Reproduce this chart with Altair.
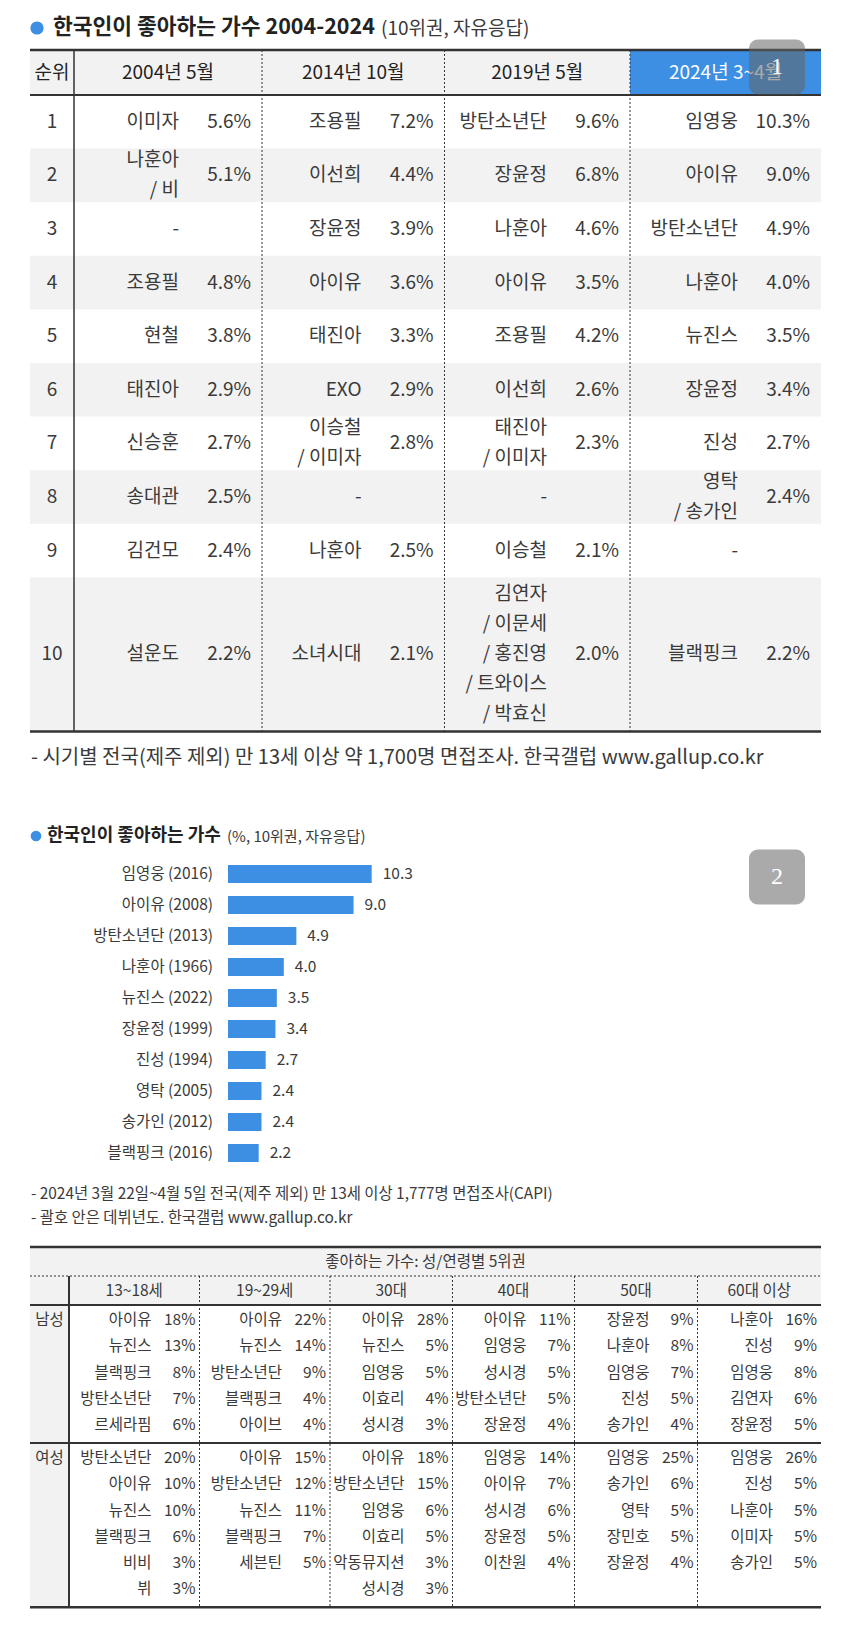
import altair as alt
import pandas as pd

# ---------------- data ----------------
title_1 = "한국인이 좋아하는 가수 2004-2024"
title_1_note = "(10위권, 자유응답)"
rank_header = "순위"
periods = ["2004년 5월", "2014년 10월", "2019년 5월", "2024년 3~4월"]
ranks = [1, 2, 3, 4, 5, 6, 7, 8, 9, 10]
names_2004 = ["이미자", "나훈아/비", "-", "조용필", "현철", "태진아", "신승훈", "송대관", "김건모", "설운도"]
vals_2004 = [5.6, 5.1, None, 4.8, 3.8, 2.9, 2.7, 2.5, 2.4, 2.2]
names_2014 = ["조용필", "이선희", "장윤정", "아이유", "태진아", "EXO", "이승철/이미자", "-", "나훈아", "소녀시대"]
vals_2014 = [7.2, 4.4, 3.9, 3.6, 3.3, 2.9, 2.8, None, 2.5, 2.1]
names_2019 = ["방탄소년단", "장윤정", "나훈아", "아이유", "조용필", "이선희", "태진아/이미자", "-", "이승철",
              "김연자/이문세/홍진영/트와이스/박효신"]
vals_2019 = [9.6, 6.8, 4.6, 3.5, 4.2, 2.6, 2.3, None, 2.1, 2.0]
names_2024 = ["임영웅", "아이유", "방탄소년단", "나훈아", "뉴진스", "장윤정", "진성", "영탁/송가인", "-", "블랙핑크"]
vals_2024 = [10.3, 9.0, 4.9, 4.0, 3.5, 3.4, 2.7, 2.4, None, 2.2]
note_1 = "- 시기별 전국(제주 제외) 만 13세 이상 약 1,700명 면접조사. 한국갤럽 www.gallup.co.kr"

title_2 = "한국인이 좋아하는 가수"
title_2_note = "(%, 10위권, 자유응답)"
bar_singers = ["임영웅", "아이유", "방탄소년단", "나훈아", "뉴진스", "장윤정", "진성", "영탁", "송가인", "블랙핑크"]
bar_debut = [2016, 2008, 2013, 1966, 2022, 1999, 1994, 2005, 2012, 2016]
bar_values = [10.3, 9.0, 4.9, 4.0, 3.5, 3.4, 2.7, 2.4, 2.4, 2.2]
note_2 = ["- 2024년 3월 22일~4월 5일 전국(제주 제외) 만 13세 이상 1,777명 면접조사(CAPI)",
          "- 괄호 안은 데뷔년도. 한국갤럽 www.gallup.co.kr"]

table_2_title = "좋아하는 가수: 성/연령별 5위권"
age_groups = ["13~18세", "19~29세", "30대", "40대", "50대", "60대 이상"]
genders = ["남성", "여성"]
male_names = [
    ["아이유", "뉴진스", "블랙핑크", "방탄소년단", "르세라핌"],
    ["아이유", "뉴진스", "방탄소년단", "블랙핑크", "아이브"],
    ["아이유", "뉴진스", "임영웅", "이효리", "성시경"],
    ["아이유", "임영웅", "성시경", "방탄소년단", "장윤정"],
    ["장윤정", "나훈아", "임영웅", "진성", "송가인"],
    ["나훈아", "진성", "임영웅", "김연자", "장윤정"],
]
male_pcts = [[18, 13, 8, 7, 6], [22, 14, 9, 4, 4], [28, 5, 5, 4, 3],
             [11, 7, 5, 5, 4], [9, 8, 7, 5, 4], [16, 9, 8, 6, 5]]
female_names = [
    ["방탄소년단", "아이유", "뉴진스", "블랙핑크", "비비", "뷔"],
    ["아이유", "방탄소년단", "뉴진스", "블랙핑크", "세븐틴"],
    ["아이유", "방탄소년단", "임영웅", "이효리", "악동뮤지션", "성시경"],
    ["임영웅", "아이유", "성시경", "장윤정", "이찬원"],
    ["임영웅", "송가인", "영탁", "장민호", "장윤정"],
    ["임영웅", "진성", "나훈아", "이미자", "송가인"],
]
female_pcts = [[20, 10, 10, 6, 3, 3], [15, 12, 11, 7, 5], [18, 15, 6, 5, 3, 3],
               [14, 7, 6, 5, 4], [25, 6, 5, 5, 4], [26, 5, 5, 5, 5]]
badges = ["1", "2"]

# ---------------- style / layout ----------------
FONT = "Noto Sans CJK KR"
SERIF = "Liberation Serif"
INK = "#3a3a3a"
DARK = "#222222"
BLUE = "#3d8fe3"
SHADE = "#f2f2f2"
LINE = "#333333"

W, H = 834, 1620
X0, Y0 = 8, 8  # page margin; layout values below are page pixels


def sx():
    return alt.Scale(domain=[X0, X0 + W], range=[0, W])


def sy():
    return alt.Scale(domain=[Y0, Y0 + H], range=[0, H])


texts, rects, rules, dots = [], [], [], []


def T(x, y, s, size, color=INK, align="left", weight="normal", font=FONT):
    texts.append(dict(x=x, y=y, text=s, size=size, color=color, align=align, weight=weight, font=font))


def R(x, x2, y, y2, fill):
    rects.append(dict(x=x, x2=x2, y=y, y2=y2, fill=fill))


def L(x, x2, y, y2, w=1.0, dash=False, color=LINE):
    rules.append(dict(x=x, x2=x2, y=y, y2=y2, w=w, dash=dash, color=color))


# ---- section 1: ranking table ----
dots.append(dict(x=37, y=28, size=175))
T(53, 28, title_1, 21.5, DARK, weight="bold")
T(381, 29, title_1_note, 19, INK)

t1_edges = [30, 74, 262, 444.5, 630, 821]
t1_top, t1_head = 50, 95
row_min_h, line_h = 53.6, 30
name_inset, pct_inset = 83, 11
period_names = [names_2004, names_2014, names_2019, names_2024]
period_vals = [vals_2004, vals_2014, vals_2019, vals_2024]

R(t1_edges[0], t1_edges[4], t1_top, t1_head, SHADE)
R(t1_edges[4], t1_edges[5], t1_top, t1_head, BLUE)
hy = (t1_top + t1_head) / 2
T((t1_edges[0] + t1_edges[1]) / 2, hy, rank_header, 19, DARK, "center")
for j, p in enumerate(periods):
    T((t1_edges[j + 1] + t1_edges[j + 2]) / 2, hy, p, 19,
      "#ffffff" if j == len(periods) - 1 else DARK, "center")

row_lines = [max(len(period_names[j][i].split("/")) for j in range(len(periods))) for i in range(len(ranks))]
row_h = [row_min_h if n <= 2 else n * line_h + 4 for n in row_lines]
y = t1_head
for i, r in enumerate(ranks):
    top, bot = y, y + row_h[i]
    cy = (top + bot) / 2
    if i % 2 == 1:
        R(t1_edges[0], t1_edges[5], top, bot, SHADE)
    T((t1_edges[0] + t1_edges[1]) / 2, cy, str(r), 19, INK, "center")
    for j in range(len(periods)):
        right = t1_edges[j + 2]
        parts = period_names[j][i].split("/")
        n = len(parts)
        for k, part in enumerate(parts):
            label = part if k == 0 else "/ " + part
            T(right - name_inset, cy + (k - (n - 1) / 2) * line_h, label, 19, INK, "right")
        v = period_vals[j][i]
        if v is not None:
            T(right - pct_inset, cy, f"{v:.1f}%", 19, INK, "right")
    y = bot
t1_bottom = y

L(t1_edges[0], t1_edges[5], t1_top, t1_top, 2.5)
L(t1_edges[0], t1_edges[5], t1_head, t1_head, 2)
L(t1_edges[0], t1_edges[5], t1_bottom, t1_bottom, 2.5)
L(t1_edges[1], t1_edges[1], t1_top, t1_bottom, 1.5)
for e in t1_edges[2:5]:
    L(e, e, t1_top, t1_bottom, 1, dash=True)

T(31, 758, note_1, 20, INK)

# ---- section 2: bar chart ----
dots.append(dict(x=36, y=836, size=115))
T(47, 836, title_2, 18, DARK, weight="bold")
T(227, 837, title_2_note, 15, INK)

bar_df = pd.DataFrame({
    "label": [f"{s} ({d})" for s, d in zip(bar_singers, bar_debut)],
    "value": bar_values,
})
bar_order = list(bar_df["label"])
bx = alt.Scale(domain=[0, 10], range=[228 - X0, 228 - X0 + 139.5])
by = alt.Scale(domain=bar_order, range=[858.5 - Y0, 1168.5 - Y0], paddingInner=0.42, paddingOuter=0.21)

bars = alt.Chart(bar_df).mark_bar(color=BLUE).encode(
    x=alt.X("value:Q", scale=bx, axis=None),
    y=alt.Y("label:N", scale=by, sort=bar_order, axis=None),
)
bar_labels = alt.Chart(bar_df).mark_text(align="right", baseline="middle", dx=-15, font=FONT,
                                         fontSize=15.5, color=INK).encode(
    x=alt.X(datum=0, scale=bx, axis=None),
    y=alt.Y("label:N", scale=by, sort=bar_order, axis=None),
    text="label:N",
)
bar_values_txt = alt.Chart(bar_df).mark_text(align="left", baseline="middle", dx=11, font=FONT,
                                             fontSize=15.5, color=INK).encode(
    x=alt.X("value:Q", scale=bx, axis=None),
    y=alt.Y("label:N", scale=by, sort=bar_order, axis=None),
    text=alt.Text("value:Q", format=".1f"),
)

T(31, 1194, note_2[0], 15.4, INK)
T(31, 1218, note_2[1], 15.4, INK)

# ---- section 3: gender / age table ----
t2_edges = [30, 69, 199.5, 330, 452.5, 574.5, 697.5, 821]
t2_top, t2_h1, t2_h2 = 1247, 1276, 1305
t2_step, pad_top, pad_bot = 26.2, 2, 5
t2_name_inset, t2_pct_inset = 48, 4

R(t2_edges[0], t2_edges[-1], t2_top, t2_h2, SHADE)
T((t2_edges[0] + t2_edges[-1]) / 2, (t2_top + t2_h1) / 2, table_2_title, 15.5, INK, "center")
for j, a in enumerate(age_groups):
    T((t2_edges[j + 1] + t2_edges[j + 2]) / 2, (t2_h1 + t2_h2) / 2, a, 15.5, INK, "center")

y = t2_h2
section_bounds = []
for g, (gname, names, pcts) in enumerate(zip(genders, [male_names, female_names], [male_pcts, female_pcts])):
    nrows = max(len(c) for c in names)
    top = y
    bot = top + pad_top + nrows * t2_step + pad_bot
    R(t2_edges[0], t2_edges[1], top, bot, SHADE)
    first_cy = top + pad_top + t2_step / 2
    T((t2_edges[0] + t2_edges[1]) / 2, first_cy, gname, 15.5, INK, "center")
    for j in range(len(age_groups)):
        right = t2_edges[j + 2]
        for k, (nm, pc) in enumerate(zip(names[j], pcts[j])):
            cy = first_cy + k * t2_step
            T(right - t2_name_inset, cy, nm, 15.5, INK, "right")
            T(right - t2_pct_inset, cy, f"{pc}%", 15.5, INK, "right")
    section_bounds.append(bot)
    y = bot
t2_bottom = y

L(t2_edges[0], t2_edges[-1], t2_top, t2_top, 2.5)
L(t2_edges[0], t2_edges[-1], t2_h1, t2_h1, 1, dash=True)
L(t2_edges[0], t2_edges[-1], t2_h2, t2_h2, 2)
L(t2_edges[0], t2_edges[-1], section_bounds[0], section_bounds[0], 2)
L(t2_edges[0], t2_edges[-1], t2_bottom, t2_bottom, 2.5)
L(t2_edges[1], t2_edges[1], t2_h1, t2_bottom, 2)
for e in t2_edges[2:-1]:
    L(e, e, t2_h1, t2_bottom, 1, dash=True)

# ---------------- build layers ----------------
rect_df = pd.DataFrame(rects)
rule_df = pd.DataFrame(rules)
text_df = pd.DataFrame(texts)
dot_df = pd.DataFrame(dots)
badge_df = pd.DataFrame({"text": badges, "x": [777, 777], "y": [67, 877]})

layers = []
layers.append(alt.Chart(rect_df).mark_rect().encode(
    x=alt.X("x:Q", scale=sx(), axis=None), x2="x2:Q",
    y=alt.Y("y:Q", scale=sy(), axis=None), y2="y2:Q",
    color=alt.Color("fill:N", scale=None, legend=None)))

layers += [bars, bar_labels, bar_values_txt]

for dash, g in rule_df.groupby("dash"):
    mk = alt.Chart(g).mark_rule(strokeDash=[2, 2]) if dash else alt.Chart(g).mark_rule()
    layers.append(mk.encode(
        x=alt.X("x:Q", scale=sx(), axis=None), x2="x2:Q",
        y=alt.Y("y:Q", scale=sy(), axis=None), y2="y2:Q",
        strokeWidth=alt.StrokeWidth("w:Q", scale=None, legend=None),
        color=alt.Color("color:N", scale=None, legend=None)))

for (align, weight, font), g in text_df.groupby(["align", "weight", "font"]):
    layers.append(alt.Chart(g).mark_text(align=align, baseline="middle", fontWeight=weight, font=font).encode(
        x=alt.X("x:Q", scale=sx(), axis=None),
        y=alt.Y("y:Q", scale=sy(), axis=None),
        text="text:N",
        size=alt.Size("size:Q", scale=None, legend=None),
        color=alt.Color("color:N", scale=None, legend=None)))

layers.append(alt.Chart(dot_df).mark_circle(color=BLUE, opacity=1).encode(
    x=alt.X("x:Q", scale=sx(), axis=None),
    y=alt.Y("y:Q", scale=sy(), axis=None),
    size=alt.Size("size:Q", scale=None, legend=None)))

layers.append(alt.Chart(badge_df).mark_rect(color="#646464", opacity=0.55, cornerRadius=9,
                                            width=56, height=55).encode(
    x=alt.X("x:Q", scale=sx(), axis=None),
    y=alt.Y("y:Q", scale=sy(), axis=None)))
layers.append(alt.Chart(badge_df).mark_text(font=SERIF, fontSize=24, color="#ffffff",
                                            align="center", baseline="middle").encode(
    x=alt.X("x:Q", scale=sx(), axis=None),
    y=alt.Y("y:Q", scale=sy(), axis=None),
    text="text:N"))

chart = alt.layer(*layers).resolve_scale(
    x="independent", y="independent"
).properties(
    width=W, height=H, padding=0, background="#ffffff",
    autosize=alt.AutoSizeParams(type="none"),
).configure_view(stroke=None)

chart.save("out.html", embed_options={"renderer": "svg", "actions": False})
